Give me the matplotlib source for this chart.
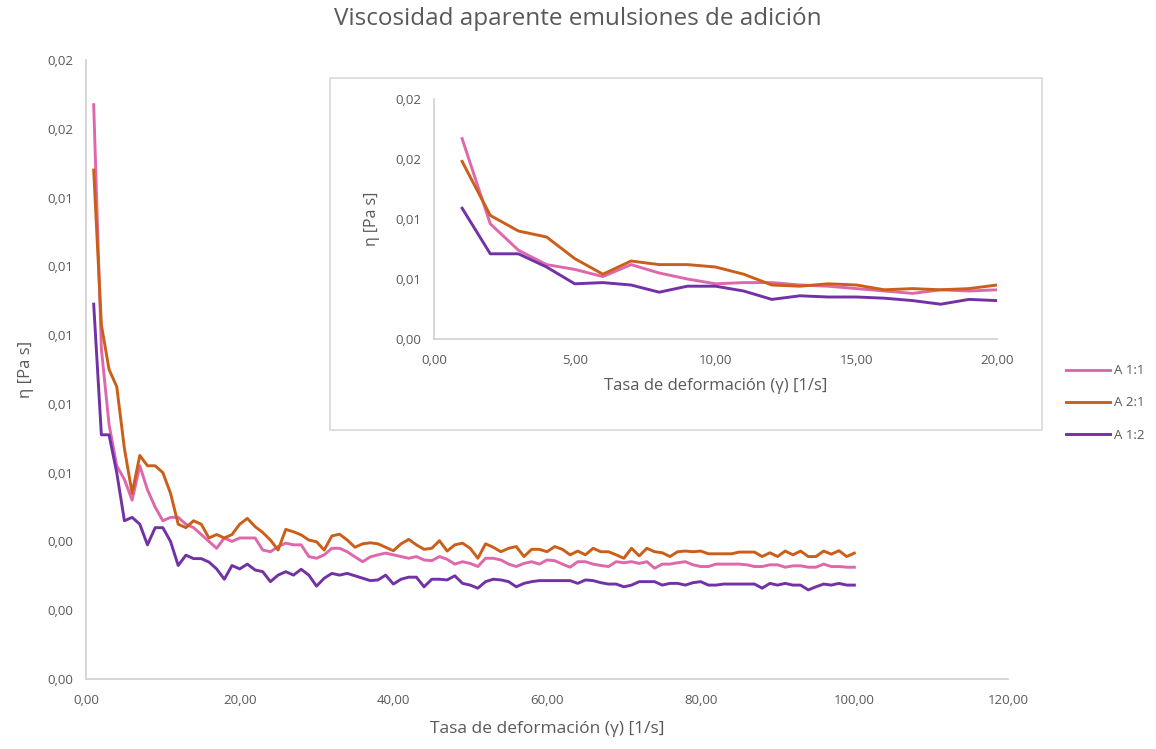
import numpy as np
import matplotlib
matplotlib.use("Agg")
import matplotlib.pyplot as plt
from matplotlib.ticker import MultipleLocator, FuncFormatter
from matplotlib.patches import Rectangle

plt.rcParams['font.family'] = ['Open Sans', 'DejaVu Sans']

# tasa de deformacion [1/s]
rate = np.arange(1, 101)

a11 = [0.0167, 0.0096, 0.0074, 0.0062, 0.0058, 0.0052, 0.0062, 0.0055, 0.0050, 0.0046,
       0.0047, 0.0047, 0.0045, 0.0044, 0.0042, 0.0040, 0.0038, 0.0041, 0.0040, 0.0041,
       0.0041, 0.0041, 0.00375, 0.0037, 0.00385, 0.00395, 0.0039, 0.0039, 0.00356, 0.00351,
       0.00361, 0.0038, 0.0038, 0.0037, 0.00355, 0.00341, 0.00355, 0.00361, 0.00366, 0.00361,
       0.00356, 0.00351, 0.00356, 0.00346, 0.00344, 0.00356, 0.00348, 0.00334, 0.00341, 0.00336,
       0.00327, 0.00351, 0.00351, 0.00346, 0.00334, 0.00327, 0.00336, 0.00341, 0.00334, 0.00346,
       0.00344, 0.00334, 0.00325, 0.00341, 0.00341, 0.00334, 0.0033, 0.00327, 0.00341, 0.00338,
       0.00341, 0.00336, 0.00341, 0.00322, 0.00334, 0.00334, 0.00338, 0.00341, 0.00332, 0.00327,
       0.00327, 0.00334, 0.00334, 0.00334, 0.00334, 0.00332, 0.00327, 0.00327, 0.00332, 0.00332,
       0.00325, 0.00329, 0.00329, 0.00325, 0.00325, 0.00334, 0.00327, 0.00327, 0.00325, 0.00325]

a21 = [0.0148, 0.0103, 0.0090, 0.0085, 0.0067, 0.0054, 0.0065, 0.0062, 0.0062, 0.0060,
       0.0054, 0.0045, 0.0044, 0.0046, 0.0045, 0.0041, 0.0042, 0.0041, 0.0042, 0.0045,
       0.00467, 0.00443, 0.00426, 0.00404, 0.00375, 0.00435, 0.00428, 0.00419, 0.00404, 0.00399,
       0.00375, 0.00416, 0.00421, 0.00404, 0.00383, 0.00393, 0.00396, 0.00393, 0.00383, 0.00373,
       0.00393, 0.00406, 0.0039, 0.00377, 0.0038, 0.00402, 0.00372, 0.0039, 0.00395, 0.0038,
       0.00351, 0.00393, 0.00383, 0.0037, 0.0038, 0.00385, 0.00356, 0.00377, 0.00377, 0.0037,
       0.00385, 0.00377, 0.00361, 0.00372, 0.00361, 0.0038, 0.0037, 0.0037, 0.00361, 0.00351,
       0.0038, 0.00358, 0.0038, 0.0037, 0.00367, 0.00356, 0.0037, 0.00372, 0.0037, 0.00372,
       0.00364, 0.00364, 0.00364, 0.00364, 0.00369, 0.00369, 0.00369, 0.00356, 0.00367, 0.00356,
       0.00372, 0.00361, 0.00372, 0.00356, 0.00356, 0.00372, 0.00363, 0.00373, 0.00356, 0.00366]

a12 = [0.0109, 0.0071, 0.0071, 0.0060, 0.0046, 0.0047, 0.0045, 0.0039, 0.0044, 0.0044,
       0.0040, 0.0033, 0.0036, 0.0035, 0.0035, 0.0034, 0.0032, 0.0029, 0.0033, 0.0032,
       0.00334, 0.00317, 0.00312, 0.00283, 0.00302, 0.00312, 0.00302, 0.00319, 0.00302, 0.0027,
       0.00293, 0.00307, 0.00302, 0.00307, 0.003, 0.00293, 0.00286, 0.00288, 0.00302, 0.00276,
       0.0029, 0.00296, 0.00296, 0.00268, 0.0029, 0.0029, 0.00288, 0.003, 0.00278, 0.00273,
       0.00264, 0.00283, 0.0029, 0.00288, 0.00283, 0.00268, 0.00278, 0.00283, 0.00286, 0.00286,
       0.00286, 0.00286, 0.00286, 0.00278, 0.00288, 0.00286, 0.0028, 0.00276, 0.00276, 0.00268,
       0.00273, 0.00283, 0.00283, 0.00283, 0.00273, 0.00278, 0.00278, 0.00273, 0.0028, 0.00283,
       0.00273, 0.00273, 0.00276, 0.00276, 0.00276, 0.00276, 0.00276, 0.00264, 0.00278, 0.00273,
       0.00278, 0.00273, 0.00273, 0.00259, 0.00268, 0.00276, 0.00273, 0.00278, 0.00273, 0.00273]

labels = ['A 1:1', 'A 2:1', 'A 1:2']
colors = ['#DF67AB', '#CB5F1A', '#7232A6']
n_inset = 20

grey = '#595959'
fmt = FuncFormatter(lambda v, p: f"{v + 1e-9:.2f}".replace('.', ','))


def style(ax):
    for s in ['top', 'right']:
        ax.spines[s].set_visible(False)
    for s in ['left', 'bottom']:
        ax.spines[s].set_color('#D0D0D0')
        ax.spines[s].set_linewidth(1.2)
    ax.tick_params(length=0, colors=grey, labelsize=9.5)
    ax.tick_params(axis='x', pad=11)
    ax.tick_params(axis='y', pad=9)
    ax.xaxis.set_major_formatter(fmt)
    ax.yaxis.set_major_formatter(fmt)


fig = plt.figure(figsize=(11.56, 7.49), dpi=100)

# grafico principal
ax = fig.add_axes([0.0744, 0.0935, 0.7976, 0.8264])
for y, c, l in zip([a11, a21, a12], colors, labels):
    ax.plot(rate, y, color=c, lw=2.1, label=l)
ax.set_xlim(0, 120)
ax.set_ylim(0, 0.018)
ax.xaxis.set_major_locator(MultipleLocator(20))
ax.yaxis.set_major_locator(MultipleLocator(0.002))
style(ax)
ax.set_xlabel('Tasa de deformación (γ) [1/s]', color=grey, fontsize=12.5, labelpad=10)
ax.set_ylabel('η [Pa s]', color=grey, fontsize=12, labelpad=10)

fig.suptitle('Viscosidad aparente emulsiones de adición', color=grey, fontsize=17.5, y=0.99)

# recuadro del inset
fig.add_artist(Rectangle((0.2855, 0.4259), 0.6159, 0.47, transform=fig.transFigure,
                         facecolor='white', edgecolor='#D9D9D9', lw=1.2, zorder=1))

ax2 = fig.add_axes([0.3754, 0.5474, 0.4871, 0.3204], zorder=2)
ax2.patch.set_alpha(0)
for y, c in zip([a11, a21, a12], colors):
    ax2.plot(rate[:n_inset], y[:n_inset], color=c, lw=2.1)
ax2.set_xlim(0, 20)
ax2.set_ylim(0, 0.02)
ax2.xaxis.set_major_locator(MultipleLocator(5))
ax2.yaxis.set_major_locator(MultipleLocator(0.005))
style(ax2)
ax2.set_xlabel('Tasa de deformación (γ) [1/s]', color=grey, fontsize=12, labelpad=8)
ax2.set_ylabel('η [Pa s]', color=grey, fontsize=11.5, labelpad=11)

leg = fig.legend(loc='center left', bbox_to_anchor=(0.912, 0.462), frameon=False,
                 fontsize=9.5, handlelength=3.3, labelspacing=1.45, handletextpad=0.3)
for t in leg.get_texts():
    t.set_color(grey)

fig.savefig('out.png', dpi=100)
